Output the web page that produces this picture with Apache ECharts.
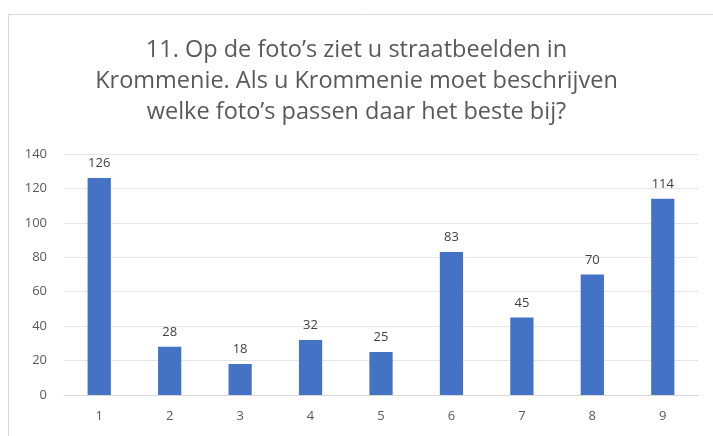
<!DOCTYPE html>
<html>
<head>
<meta charset="utf-8">
<script src="https://cdn.jsdelivr.net/npm/echarts@6/dist/echarts.min.js"></script>
<style>
  html, body { margin: 0; padding: 0; background: #fff; }
  #chart { width: 713px; height: 436px; }
</style>
</head>
<body>
<div id="chart"></div>
<script>
  // data
  const categories = ['1', '2', '3', '4', '5', '6', '7', '8', '9'];
  const values = [126, 28, 18, 32, 25, 83, 45, 70, 114];
  const titleLines = [
    '11. Op de foto\u2019s ziet u straatbeelden in',
    'Krommenie. Als u Krommenie moet beschrijven',
    'welke foto\u2019s passen daar het beste bij?'
  ];

  const chart = echarts.init(document.getElementById('chart'));

  const option = {
    animation: false,
    backgroundColor: '#fff',
    textStyle: { fontFamily: 'Open Sans' },
    graphic: [
      {
        type: 'rect',
        left: 6,
        top: 12,
        shape: { width: 740, height: 460 },
        style: { fill: 'none', stroke: '#d9d9d9', lineWidth: 1 },
        silent: true
      }
    ],
    title: {
      text: titleLines.join('\n'),
      left: 'center',
      top: 30,
      textStyle: {
        fontFamily: 'Open Sans',
        fontSize: 23.5,
        fontWeight: 'normal',
        color: '#595959',
        lineHeight: 31
      }
    },
    grid: {
      left: 64,
      right: 15,
      top: 154,
      bottom: 41
    },
    xAxis: {
      type: 'category',
      data: categories,
      axisLine: { lineStyle: { color: '#d9d9d9' } },
      axisTick: { show: false },
      axisLabel: { color: '#595959', fontSize: 13, margin: 15 }
    },
    yAxis: {
      type: 'value',
      min: 0,
      max: 140,
      interval: 20,
      axisLine: { show: false },
      axisTick: { show: false },
      axisLabel: { color: '#595959', fontSize: 13, margin: 17 },
      splitLine: { lineStyle: { color: '#e6e6e6' } }
    },
    series: [
      {
        type: 'bar',
        data: values,
        barWidth: '33%',
        itemStyle: { color: '#4472c4' },
        label: {
          show: true,
          position: 'top',
          distance: 8,
          color: '#404040',
          fontSize: 13
        }
      }
    ]
  };

  chart.setOption(option);
</script>
</body>
</html>
